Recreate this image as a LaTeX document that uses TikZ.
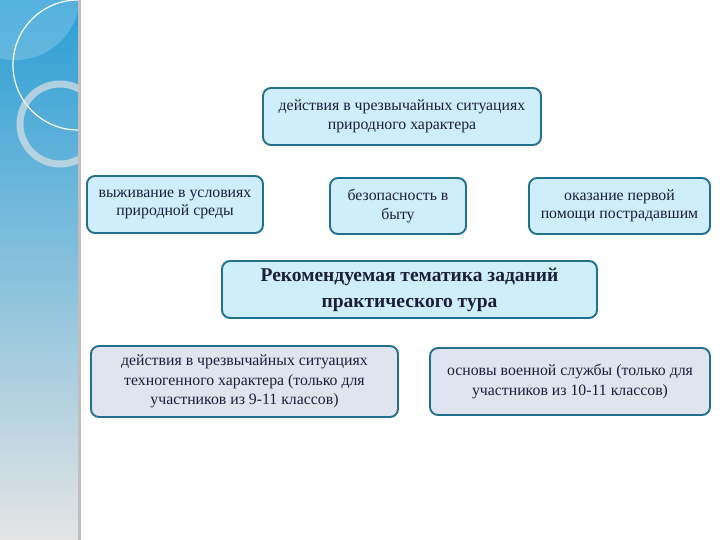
\documentclass[tikz,border=0pt]{standalone}
\usepackage{fontspec}
\setmainfont{Liberation Serif}
\usetikzlibrary{positioning}
\definecolor{boxline}{HTML}{22708C}
\definecolor{boxfill}{HTML}{CDEEFA}
\definecolor{greyfill}{HTML}{DFE4EE}
\definecolor{inktext}{HTML}{1C1F3A}
\definecolor{bartop}{HTML}{2A9ED5}
\definecolor{barmid}{HTML}{B9D5E0}
\definecolor{barbot}{HTML}{E4E4E4}
\tikzstyle{topic} = [rectangle, rounded corners=8pt, align=center, draw=boxline, line width=1.9pt, fill=boxfill, text=inktext, font=\fontsize{15.8}{18.5}\selectfont, inner sep=2pt]
\tikzstyle{extra} = [topic, fill=greyfill, font=\fontsize{15.8}{19.5}\selectfont]
\tikzstyle{theme} = [topic, font=\fontsize{19.5}{26}\selectfont\bfseries]

\begin{document}
\begin{tikzpicture}[x=1pt, y=-1pt]
	
	\useasboundingbox (0,0) rectangle (720,540);
	
	% side bar
	\shade[top color=bartop, middle color=barmid, bottom color=barbot] (0,0) rectangle (78,540);
	\fill[black!25] (78,0) rectangle (81,540);
	\begin{scope}
		\clip (0,0) rectangle (78,540);
		\fill[white, opacity=0.2] (15,-5) circle (65);
		\draw[white, line width=1.2pt] (78,65) circle (65);
		\draw[white!80!gray, opacity=0.65, line width=7pt] (60,124) circle (40);
	\end{scope}
	
	\node (nature) [topic, minimum width=278pt, minimum height=57pt] at (402,116.5) {действия в чрезвычайных ситуациях\\природного характера};
	
	\node (survive) [topic, minimum width=176pt, minimum height=57pt] at (175,204.5) {выживание в условиях\\природной среды};
	
	\node (home) [topic, minimum width=136pt, minimum height=56pt] at (398,206) {безопасность в\\быту};
	
	\node (aid) [topic, minimum width=181pt, minimum height=56pt] at (619.5,206) {оказание первой\\помощи пострадавшим};
	
	\node (main) [theme, minimum width=375pt, minimum height=57pt] at (409.5,289.5) {Рекомендуемая тематика заданий\\практического тура};
	
	\node (techno) [extra, minimum width=307pt, minimum height=71pt] at (244.5,381.5) {действия в чрезвычайных ситуациях\\техногенного характера (только для\\участников из 9-11 классов)};
	
	\node (army) [extra, minimum width=280pt, minimum height=67pt] at (570,381.5) {основы военной службы (только для\\участников из 10-11 классов)};
	
\end{tikzpicture}
\end{document}
